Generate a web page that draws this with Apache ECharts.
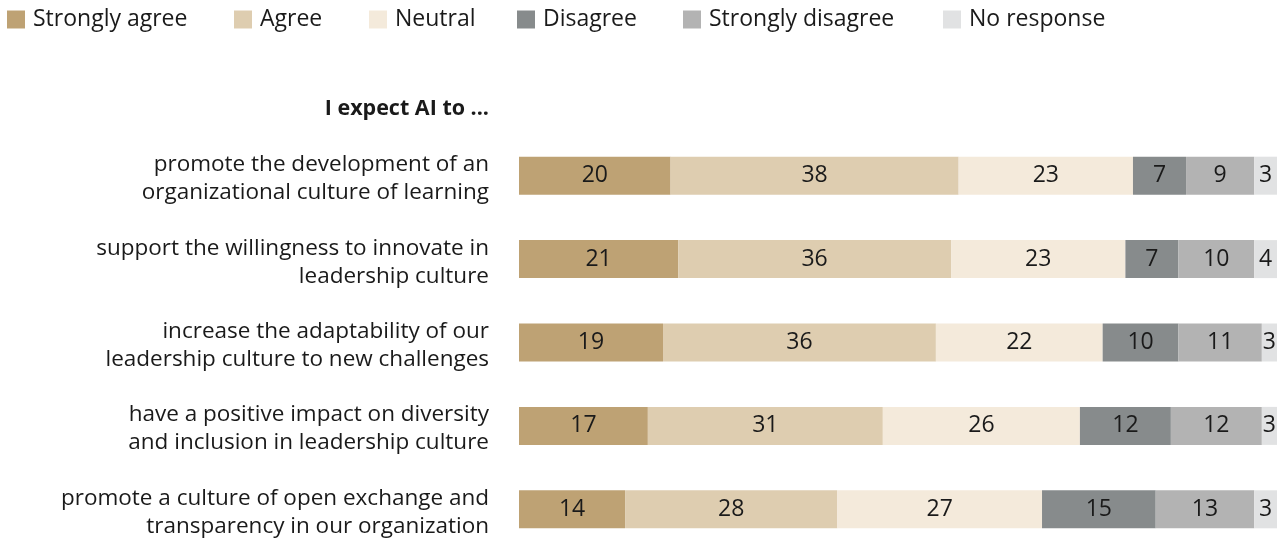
<!DOCTYPE html>
<html>
<head>
<meta charset="utf-8">
<script src="https://cdn.jsdelivr.net/npm/echarts@6/dist/echarts.min.js"></script>
<style>
  html, body { margin: 0; padding: 0; background: #ffffff; }
  #chart { width: 1277px; height: 542px; }
</style>
</head>
<body>
<div id="chart"></div>
<script>
// Survey statements (top to bottom)
const statements = [
  'promote the development of an\norganizational culture of learning',
  'support the willingness to innovate in\nleadership culture',
  'increase the adaptability of our\nleadership culture to new challenges',
  'have a positive impact on diversity\nand inclusion in leadership culture',
  'promote a culture of open exchange and\ntransparency in our organization'
];

// Response shares in percent, one array per answer option
const stronglyAgree    = [20, 21, 19, 17, 14];
const agree            = [38, 36, 36, 31, 28];
const neutral          = [23, 23, 22, 26, 27];
const disagree         = [7, 7, 10, 12, 15];
const stronglyDisagree = [9, 10, 11, 12, 13];
const noResponse       = [3, 4, 3, 3, 3];

const seriesNames  = ['Strongly agree', 'Agree', 'Neutral', 'Disagree', 'Strongly disagree', 'No response'];
const seriesValues = [stronglyAgree, agree, neutral, disagree, stronglyDisagree, noResponse];
const seriesColors = ['#bea274', '#decdb0', '#f4eadb', '#878b8c', '#b3b3b3', '#e1e2e3'];

// Left edge of each legend entry's swatch
const legendLeft = [7, 234, 369, 517, 683, 943];

const FONT = 'Open Sans';
const INK = '#1a1a1a';

const chart = echarts.init(document.getElementById('chart'), null, { renderer: 'canvas' });

chart.setOption({
  animation: false,
  textStyle: { fontFamily: FONT },
  legend: seriesNames.map((name, i) => ({
    left: legendLeft[i],
    top: 8,
    padding: 0,
    itemWidth: 18,
    itemHeight: 18,
    icon: 'rect',
    selectedMode: false,
    textStyle: { fontSize: 23, color: INK, fontFamily: FONT, padding: [0, 0, 0, 3] },
    data: [name]
  })),
  title: {
    text: 'I expect AI to ...',
    right: 1277 - 489,
    top: 98,
    padding: 0,
    textStyle: { fontSize: 21.5, fontWeight: 'bold', color: INK, fontFamily: FONT }
  },
  grid: { left: 519, right: 0, top: 134, height: 417, outerBoundsMode: 'none', containLabel: false },
  xAxis: {
    type: 'value',
    min: 0,
    max: 100,
    show: false
  },
  yAxis: {
    type: 'category',
    inverse: true,
    data: statements,
    axisLine: { show: false },
    axisTick: { show: false },
    axisLabel: {
      margin: 30,
      color: INK,
      align: 'right',
      formatter: (v) => v.split('\n').map((line) => '{t|' + line + '}').join('\n'),
      rich: {
        t: {
          fontSize: 22.5,
          lineHeight: 28,
          padding: [6, 0, 0, 0],
          color: INK,
          fontFamily: FONT
        }
      }
    }
  },
  series: seriesNames.map((name, i) => ({
    name,
    type: 'bar',
    stack: 'total',
    barWidth: 38,
    clip: true,
    itemStyle: { color: seriesColors[i] },
    label: {
      show: true,
      position: 'inside',
      fontSize: 23,
      color: INK,
      fontFamily: FONT
    },
    data: seriesValues[i]
  }))
});
</script>
</body>
</html>
